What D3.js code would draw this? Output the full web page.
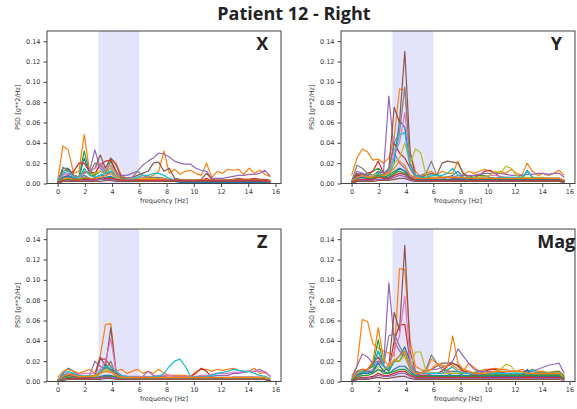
<!DOCTYPE html>
<html>
<head>
<meta charset="utf-8">
<script src="https://cdn.jsdelivr.net/npm/d3@7"></script>
<style>
  body { margin: 0; background: #fff; }
  svg text { font-family: "DejaVu Sans", sans-serif; }
</style>
</head>
<body>
<div id="chart-area"></div>
<script>

// frequency bins [Hz]
var freqs = [0, 0.391, 0.781, 1.172, 1.563, 1.953, 2.344, 2.734, 3.125, 3.516, 3.906, 4.297, 4.688, 5.078, 5.469, 5.859,
  6.25, 6.641, 7.031, 7.422, 7.813, 8.203, 8.594, 8.984, 9.375, 9.766, 10.156, 10.547, 10.938, 11.328, 11.719,
  12.109, 12.5, 12.891, 13.281, 13.672, 14.063, 14.453, 14.844, 15.234, 15.625];

// PSD per recording, in 1e-3 g**2/Hz
var psdX = [
  [1,15,15,8,6,25,10,6,8,8, 12,8,4,3,3,3,3,3,3,3, 3,3,2,2,2,2,2,2,2,2, 2,2,2,2,2,2,2,2,2,2, 1],
  [3,37,33,10,12,48,12,8,20,15, 25,20,8,5,4,5,6,6,8,12, 32,10,14,9,12,13,10,8,20,6, 12,10,14,13,14,9,15,10,13,9, 7],
  [1,12,14,8,6,32,10,8,12,10, 22,10,4,3,3,3,4,4,4,3, 3,3,3,2,2,2,2,2,3,2, 2,3,3,3,3,3,3,3,3,2, 1],
  [1,6,8,12,20,20,12,10,18,22, 23,12,5,4,4,4,4,5,4,4, 3,3,3,3,3,3,3,3,5,3, 3,3,3,3,4,4,4,5,4,4, 3],
  [2,10,8,6,7,10,12,33,15,10, 12,8,8,8,10,12,18,22,25,30, 29,26,22,20,19,19,15,13,12,5, 5,5,6,7,8,8,9,9,10,13, 7],
  [1,15,14,8,6,10,12,15,28,15, 25,18,6,5,6,8,10,12,20,21, 12,15,5,4,3,3,3,4,10,4, 3,3,3,4,5,4,4,4,4,3, 2],
  [1,8,10,8,6,10,12,15,20,14, 18,10,5,4,5,6,6,6,5,5, 4,4,3,3,3,3,3,3,3,3, 3,3,3,3,3,3,3,3,3,3, 2],
  [1,16,12,8,6,12,10,20,18,12, 15,8,5,5,6,12,8,6,6,6, 5,4,4,3,3,3,3,3,3,3, 3,3,3,3,3,3,3,3,3,3, 2],
  [1,5,6,5,6,14,8,10,12,10, 16,8,3,3,4,5,5,5,5,4, 4,3,3,3,3,3,3,3,3,3, 3,3,3,3,3,3,3,3,3,3, 2],
  [1,10,12,6,5,15,8,6,8,10, 12,6,3,3,4,6,8,8,10,10, 8,5,3,3,2,2,2,2,2,2, 2,2,2,2,2,2,2,2,2,2, 1],
  [0,6,7,5,4,8,5,4,5,6, 7,4,2,2,2,2,2,2,2,2, 2,2,2,1,1,1,1,1,1,1, 1,1,1,1,1,1,1,1,1,1, 1],
  [1,4,5,4,4,6,5,5,6,8, 10,5,3,3,3,3,4,4,4,4, 4,3,3,3,3,3,3,3,3,3, 3,3,3,3,3,3,3,3,3,3, 2],
  [0,3,4,3,3,5,4,3,4,5, 6,3,2,2,2,2,2,2,2,2, 2,2,2,2,2,2,2,2,2,2, 2,2,2,2,2,2,2,2,2,2, 1],
  [1,3,3,3,3,4,4,4,4,5, 5,4,3,3,3,3,3,3,3,3, 3,3,3,3,3,3,3,3,3,3, 3,3,3,3,3,3,3,3,3,3, 2],
  [0,2,3,2,2,3,3,3,4,4, 4,3,2,2,2,2,2,2,2,2, 2,2,2,2,2,2,2,2,2,2, 2,2,2,2,2,2,2,2,2,2, 1],
  [0,2,2,2,2,2,2,2,2,3, 3,2,2,2,2,2,2,2,2,2, 2,2,2,2,2,2,2,2,2,2, 2,2,2,2,2,2,2,2,2,2, 1]
];

var psdY = [
  [2,8,10,6,5,12,6,8,20,62, 55,20,6,4,5,6,5,5,6,8, 12,6,4,4,4,4,4,4,4,4, 4,4,4,13,6,4,3,3,3,3, 2],
  [8,25,34,31,23,24,20,25,45,93, 92,30,12,6,10,12,8,12,10,10, 22,8,12,10,12,14,12,10,12,10, 14,10,8,20,12,8,10,8,10,13, 8],
  [1,6,8,8,12,15,10,8,12,15, 12,8,5,4,4,4,5,5,6,6, 5,5,5,6,8,8,6,5,5,4, 4,4,4,4,4,4,3,3,3,3, 2],
  [1,8,8,10,12,22,10,12,40,30, 25,15,6,5,5,6,6,6,6,5, 5,5,6,8,8,12,13,10,6,5, 5,5,5,5,4,4,4,4,4,4, 3],
  [2,12,10,8,6,10,12,86,30,20, 15,8,5,4,4,4,5,5,6,6, 8,8,8,8,9,10,10,10,10,9, 8,8,8,9,9,10,10,9,10,10, 6],
  [1,10,8,6,6,10,8,15,75,60, 130,30,8,6,8,10,8,20,22,21, 20,10,6,5,5,5,5,5,5,5, 5,5,4,4,4,4,4,4,4,4, 3],
  [1,6,6,6,8,10,8,12,30,40, 70,20,6,5,5,5,5,5,6,6, 6,5,5,5,6,7,8,8,7,6, 6,5,5,5,5,5,5,5,5,5, 3],
  [2,18,15,10,8,12,10,15,40,50, 95,20,8,8,10,22,8,6,6,6, 5,5,5,5,5,5,5,5,5,5, 5,5,5,5,5,5,5,5,5,5, 3],
  [1,5,6,6,8,10,8,10,20,25, 40,20,34,30,8,6,6,6,6,6, 6,6,6,6,6,7,8,12,10,17, 15,8,6,6,6,6,6,5,5,5, 3],
  [1,6,8,6,6,10,8,10,25,48, 50,15,8,6,6,8,8,8,10,15, 8,6,6,5,5,5,5,5,6,6, 6,6,6,12,6,5,5,5,5,5, 3],
  [1,5,6,5,5,8,6,6,10,15, 12,6,4,4,4,4,4,4,4,4, 4,4,4,4,4,4,4,4,4,4, 4,4,4,4,4,4,4,4,4,4, 2],
  [2,6,8,6,6,8,8,10,15,22, 18,8,5,5,5,5,5,6,6,6, 6,6,5,5,5,5,5,5,5,5, 5,5,5,5,5,5,5,5,5,5, 3],
  [1,3,4,4,5,8,6,6,10,12, 10,5,3,3,3,3,3,3,3,3, 3,3,3,3,3,3,3,3,3,3, 3,3,3,3,3,3,3,3,3,3, 2],
  [1,3,4,4,4,6,5,5,8,10, 9,5,3,3,3,3,3,3,3,3, 3,3,3,3,3,3,3,3,3,3, 3,3,3,3,3,3,3,3,3,3, 2],
  [0,2,3,3,3,4,4,4,6,8, 7,4,2,2,2,2,2,2,2,2, 2,2,2,2,2,2,2,2,2,2, 2,2,2,2,2,2,2,2,2,2, 1],
  [0,2,2,2,2,3,3,3,4,5, 5,3,2,2,2,2,2,2,2,2, 2,2,2,2,2,2,2,2,2,2, 2,2,2,2,2,2,2,2,2,2, 1]
];

var psdZ = [
  [1,8,13,10,6,5,4,4,8,14, 12,6,3,3,3,3,3,3,3,6, 3,2,2,2,2,2,2,2,2,2, 2,2,2,2,2,2,2,2,2,2, 1],
  [4,10,12,10,8,10,12,8,25,56, 57,10,12,8,10,12,8,10,8,12, 8,6,6,6,6,5,10,12,12,10, 12,11,12,13,11,10,10,13,8,9, 5],
  [1,5,8,6,4,4,3,4,8,17, 10,5,3,3,3,3,3,3,3,3, 3,3,3,3,3,3,3,3,3,3, 3,3,3,4,4,4,4,4,3,3, 2],
  [1,4,6,8,6,4,4,5,22,22, 15,6,4,3,3,3,3,3,4,4, 4,4,3,3,3,5,8,13,10,4, 3,3,3,4,4,4,4,4,4,3, 2],
  [1,6,8,6,5,5,6,20,15,12, 10,8,5,4,4,4,5,10,6,5, 5,6,5,4,4,4,4,5,5,5, 6,6,6,8,8,9,10,10,12,9, 5],
  [1,4,6,5,4,4,4,6,24,15, 53,8,4,3,3,3,3,3,3,3, 3,3,3,3,3,3,3,3,3,3, 3,3,3,3,3,3,3,3,3,3, 2],
  [1,6,8,8,7,8,8,8,12,20, 42,10,6,5,5,5,5,5,5,6, 6,6,5,5,5,5,5,6,6,7, 8,8,8,9,9,10,10,10,10,10, 5],
  [1,4,5,4,4,4,4,5,10,12, 20,6,4,4,4,4,4,4,4,4, 4,4,4,4,4,4,4,4,4,4, 4,4,4,4,4,4,4,4,4,4, 2],
  [1,3,5,4,4,5,5,5,8,12, 10,6,4,3,3,3,3,3,3,3, 3,3,3,3,3,3,3,3,3,3, 3,3,3,3,3,3,3,3,3,3, 2],
  [1,6,10,8,6,5,6,6,10,15, 14,10,6,5,4,4,4,4,5,5, 8,15,20,22,15,5,4,4,5,6, 8,9,10,12,11,10,10,8,6,5, 3],
  [0,4,6,5,3,3,3,3,5,6, 6,4,2,2,2,2,2,2,2,2, 2,2,2,2,2,2,2,2,2,2, 2,2,2,2,2,2,2,2,2,2, 1],
  [1,5,7,6,5,5,5,6,8,10, 9,6,4,4,4,4,4,4,4,4, 4,4,4,4,4,4,4,4,4,4, 4,4,4,4,4,4,4,4,4,4, 2],
  [0,3,4,3,3,3,3,3,4,5, 5,3,2,2,2,2,2,2,2,2, 2,2,2,2,2,2,2,2,2,2, 2,2,2,2,2,2,2,2,2,2, 1],
  [0,2,3,3,3,3,3,3,4,4, 4,3,2,2,2,2,2,2,2,2, 2,2,2,2,2,2,2,2,2,2, 2,2,2,2,2,2,2,2,2,2, 1],
  [0,2,2,2,2,2,2,3,3,4, 4,3,2,2,2,2,2,2,2,2, 2,2,2,2,2,2,2,2,2,2, 2,2,2,2,2,2,2,2,2,2, 1],
  [0,1,2,2,2,2,2,2,2,3, 3,2,2,2,2,2,2,2,2,2, 2,2,2,2,2,2,2,2,2,2, 2,2,2,2,2,2,2,2,2,2, 1]
];

var psdMag = [
  [1,5,10,12,15,30,15,10,20,25, 34,20,8,6,6,6,6,6,6,8, 8,6,6,6,6,6,6,6,6,6, 6,7,7,10,6,5,5,5,5,5, 3],
  [5,15,61,59,37,33,30,28,25,111, 110,40,15,12,10,22,18,15,10,16, 12,10,18,14,10,12,12,13,12,12, 10,10,12,10,12,10,10,8,10,10, 6],
  [1,6,10,12,15,41,15,10,20,20, 30,15,8,8,8,8,8,8,8,8, 8,8,8,9,10,10,10,9,9,8, 8,8,8,8,8,9,9,9,9,10, 5],
  [1,6,8,12,18,24,15,12,40,56, 56,20,8,6,6,8,8,10,15,18, 16,10,10,8,8,10,12,12,10,8, 6,6,6,6,6,6,6,6,6,5, 3],
  [2,15,27,24,18,20,15,97,40,30, 25,12,8,8,10,12,12,14,16,20, 32,25,18,12,10,10,10,10,10,10, 10,10,10,10,10,12,14,16,17,18, 8],
  [1,10,12,10,8,12,10,15,68,50, 134,30,10,8,10,12,15,18,18,18, 15,10,8,6,5,5,5,5,5,5, 5,5,5,5,5,5,5,5,5,5, 3],
  [1,6,8,10,12,20,15,15,30,45, 84,20,8,7,7,8,8,8,9,10, 10,9,8,8,8,8,8,8,8,8, 8,8,8,8,8,8,8,8,8,8, 4],
  [2,10,12,10,10,20,15,45,47,35, 25,15,8,8,12,26,18,12,10,10, 10,8,8,7,7,7,7,7,7,7, 7,7,7,7,7,7,7,7,7,7, 4],
  [1,5,8,8,10,15,12,15,22,20, 25,14,29,29,10,8,8,8,8,8, 8,8,8,8,8,8,8,10,12,17, 15,8,8,8,8,8,8,8,8,8, 4],
  [1,8,10,8,10,30,15,12,20,25, 30,15,8,8,8,8,8,8,12,14, 10,8,8,8,8,8,8,8,8,8, 8,8,8,8,12,8,8,8,8,8, 4],
  [1,6,8,8,10,18,10,8,12,15, 15,10,6,5,5,5,5,5,5,6, 6,5,5,5,5,5,5,5,5,5, 5,5,5,12,5,5,5,5,5,5, 3],
  [2,8,12,12,20,53,22,15,20,25, 30,12,8,8,10,12,18,16,14,45, 18,12,10,8,8,8,9,10,10,10, 10,10,10,8,8,8,8,8,8,8, 4],
  [1,4,6,6,8,12,8,8,10,12, 12,8,5,5,5,5,5,5,5,5, 5,5,5,5,5,6,6,6,6,6, 6,6,6,6,6,6,6,6,6,6, 3],
  [0,3,4,4,5,8,6,6,8,10, 10,6,4,4,4,4,4,4,4,4, 4,4,4,4,4,4,4,4,4,4, 4,4,4,4,4,4,4,4,4,4, 2],
  [0,2,3,3,4,6,5,5,6,8, 8,5,3,3,3,3,3,3,3,3, 3,3,3,3,3,3,3,3,3,3, 3,3,3,3,3,3,3,3,3,3, 2],
  [0,2,2,2,3,4,3,3,4,5, 5,3,2,2,2,2,2,2,2,2, 2,2,2,2,2,2,2,2,2,2, 2,2,2,2,2,2,2,2,2,2, 1]
];

var panelNames = ["X", "Y", "Z", "Mag"];
var xTicks = [0, 2, 4, 6, 8, 10, 12, 14, 16];
var yTicks = [0, 0.02, 0.04, 0.06, 0.08, 0.10, 0.12, 0.14];
var tremorBand = [3, 6];

var allPsd = [psdX, psdY, psdZ, psdMag];
var color = d3.scaleOrdinal(d3.schemeCategory10);

var svg = d3.select("#chart-area")
  .append("svg")
  .attr("width", 577)
  .attr("height", 409);

// title
svg.append("text")
  .attr("x", 294)
  .attr("y", 20)
  .attr("text-anchor", "middle")
  .style("font-family", "'Open Sans', sans-serif")
  .style("font-weight", "bold")
  .style("font-size", "18px")
  .attr("fill", "#222")
  .text("Patient 12 - Right");

// axes boxes: left, top
var boxes = [[47, 31], [341, 31], [47, 229], [341, 229]];
var width = 234, height = 152.5;

var x = d3.scaleLinear()
  .domain([-0.78125, 16.40625])
  .range([0, width]);

var y = d3.scaleLinear()
  .domain([0, 0.15])
  .range([height, 0]);

var line = d3.line()
  .x(function(d, i) { return x(freqs[i]); })
  .y(function(d) { return y(d / 1000); });

panelNames.forEach(function(name, p) {
  var g = svg.append("g")
    .attr("transform", "translate(" + boxes[p][0] + "," + boxes[p][1] + ")");

  // shaded band
  g.append("rect")
    .attr("x", x(tremorBand[0]))
    .attr("y", 0)
    .attr("width", x(tremorBand[1]) - x(tremorBand[0]))
    .attr("height", height)
    .attr("fill", "#e3e3fb");

  g.selectAll("path.psd")
    .data(allPsd[p])
    .enter()
    .append("path")
    .attr("class", "psd")
    .attr("d", line)
    .attr("fill", "none")
    .attr("stroke", function(d, i) { return color(i % 10); })
    .attr("stroke-width", 1.2)
    .attr("stroke-linejoin", "round");

  var xAxis = g.append("g")
    .attr("transform", "translate(0," + height + ")")
    .call(d3.axisBottom(x).tickValues(xTicks).tickSize(3.5).tickPadding(2.5).tickFormat(d3.format("d")));

  var yAxis = g.append("g")
    .call(d3.axisLeft(y).tickValues(yTicks).tickSize(3.5).tickPadding(3).tickFormat(d3.format(".2f")));

  [xAxis, yAxis].forEach(function(a) {
    a.select(".domain").remove();
    a.selectAll("line").attr("stroke", "#444");
    a.selectAll("text")
      .attr("fill", "#333")
      .style("font-size", "6.5px")
      .style("font-family", "'DejaVu Sans', sans-serif");
  });

  // frame
  g.append("rect")
    .attr("width", width)
    .attr("height", height)
    .attr("fill", "none")
    .attr("stroke", "#444")
    .attr("stroke-width", 1);

  g.append("text")
    .attr("x", width * 0.92)
    .attr("y", 18.5)
    .attr("text-anchor", "middle")
    .style("font-family", "'Open Sans', sans-serif")
    .style("font-weight", "bold")
    .style("font-size", "18px")
    .attr("fill", "#222")
    .text(name);

  g.append("text")
    .attr("transform", "translate(-27," + (height / 2) + ") rotate(-90)")
    .attr("text-anchor", "middle")
    .style("font-size", "6.5px")
    .attr("fill", "#333")
    .text("PSD [g**2/Hz]");

  g.append("text")
    .attr("x", width / 2)
    .attr("y", height + 19)
    .attr("text-anchor", "middle")
    .style("font-size", "6.5px")
    .attr("fill", "#333")
    .text("frequency [Hz]");
});

</script>
</body>
</html>
